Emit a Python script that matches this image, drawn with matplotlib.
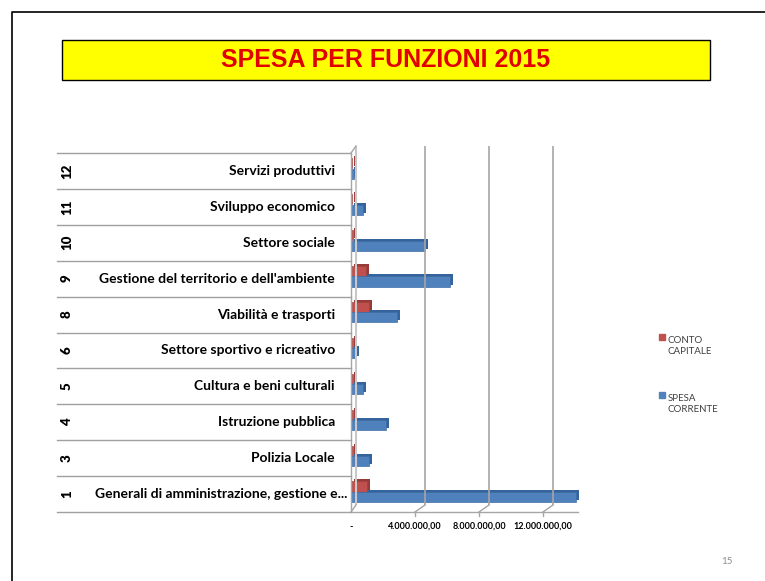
import matplotlib
matplotlib.use("Agg")
import matplotlib.pyplot as plt
from matplotlib.transforms import offset_copy
from matplotlib.lines import Line2D
from matplotlib.patches import Rectangle

# dati (euro)
codici = ["1", "3", "4", "5", "6", "8", "9", "10", "11", "12"]
funzioni = ["Generali di amministrazione, gestione e...",
            "Polizia Locale",
            "Istruzione pubblica",
            "Cultura e beni culturali",
            "Settore sportivo e ricreativo",
            "Viabilità e trasporti",
            "Gestione del territorio e dell'ambiente",
            "Settore sociale",
            "Sviluppo economico",
            "Servizi produttivi"]
spesa_corrente = [14050000, 1100000, 2200000, 750000, 300000,
                  2900000, 6200000, 4600000, 750000, 200000]
conto_capitale = [1000000, 150000, 100000, 100000, 100000,
                  1100000, 950000, 100000, 60000, 60000]
xticks = [0, 4000000, 8000000, 12000000]
xtick_labels = ["-", "4.000.000,00", "8.000.000,00", "12.000.000,00"]

rosso = "#C0504D"
rosso_scuro = "#963B38"
blu = "#4F81BD"
blu_scuro = "#35649C"
griglia = "#A6A6A6"

fig = plt.figure(figsize=(7.65, 5.81), dpi=100)
ax = fig.add_axes([351 / 765, 69 / 581, 232 / 765, 359 / 581])
ax.set_xlim(0, 14500000)
ax.set_ylim(-0.5, 9.5)
for s in ax.spines.values():
    s.set_visible(False)
ax.set_xticks([])
ax.set_yticks([])

y = list(range(len(codici)))
y_rosso = [v + 0.21 for v in y]
y_blu = [v - 0.08 for v in y]

# pareti 3D
back = offset_copy(ax.transData, fig=fig, x=10, y=7, units="dots")
wall = offset_copy(ax.transData, fig=fig, x=5, y=7, units="dots")
ax.vlines(xticks[1:], -0.5, 9.5, colors=griglia, lw=1.2, transform=back, clip_on=False)
ax.vlines([0], -0.5, 9.5, colors="#C8C8C8", lw=1.5, transform=wall, clip_on=False)
fig.canvas.draw()
for xv in xticks:
    p0 = ax.transData.transform((xv, -0.5))
    p1 = back.transform((xv, -0.5)) if xv else wall.transform((xv, -0.5))
    fig.lines.append(Line2D([p0[0], p1[0]], [p0[1], p1[1]], color=griglia, lw=1, transform=None))
p0 = ax.transData.transform((0, 9.5))
p1 = wall.transform((0, 9.5))
fig.lines.append(Line2D([p0[0], p1[0]], [p0[1], p1[1]], color=griglia, lw=1, transform=None))
ax.plot([0, 14200000], [-0.5, -0.5], color=griglia, lw=1, clip_on=False)
ax.vlines([0], -0.5, 9.5, colors=griglia, lw=1, clip_on=False)
for xv in xticks[1:]:
    ax.plot([xv, xv], [-0.5, -0.62], color=griglia, lw=1, clip_on=False)

# barre con effetto profondita'
depth = offset_copy(ax.transData, fig=fig, x=3, y=2, units="dots")
h = 0.28
ax.barh(y_rosso, conto_capitale, height=h, color=rosso_scuro, transform=depth, clip_on=False)
ax.barh(y_blu, spesa_corrente, height=h, color=blu_scuro, transform=depth, clip_on=False)
ax.barh(y_rosso, conto_capitale, height=h, color=rosso, edgecolor="#A04340", lw=0.5,
        clip_on=False, label="CONTO\nCAPITALE")
ax.barh(y_blu, spesa_corrente, height=h, color=blu, edgecolor="#3F6DA6", lw=0.5,
        clip_on=False, label="SPESA\nCORRENTE")

# tabella etichette
left = (57 - 351) / 232
yt = ax.get_yaxis_transform()
for b in [i - 0.5 for i in range(len(codici) + 1)]:
    ax.plot([left, 0], [b, b], color="#A0A0A0", lw=1, transform=yt, clip_on=False)
for i in y:
    ax.text((67 - 351) / 232, i, codici[i], rotation=90, ha="center", va="center",
            fontsize=9.5, fontweight="heavy", family="Lato", transform=yt)
    xr = 347 if funzioni[i].endswith("...") else 335
    ax.text((xr - 351) / 232, i, funzioni[i], ha="right", va="center",
            fontsize=10, fontweight="bold", family="Lato", transform=yt)

for xv, lab in zip(xticks, xtick_labels):
    ax.text(xv, -0.9, lab, ha="center", va="center", fontsize=6.5, fontweight="bold",
            family="Lato")

# legenda
fig.patches.append(Rectangle((659 / 765, 1 - 340 / 581), 6 / 765, 6 / 581, color=rosso,
                             transform=fig.transFigure))
fig.text(668 / 765, 1 - 336 / 581, "CONTO\nCAPITALE", fontsize=7, family="Lato",
         va="top", ha="left", color="#404040", linespacing=1.3)
fig.patches.append(Rectangle((659 / 765, 1 - 398 / 581), 6 / 765, 6 / 581, color=blu,
                             transform=fig.transFigure))
fig.text(668 / 765, 1 - 394 / 581, "SPESA\nCORRENTE", fontsize=7, family="Lato",
         va="top", ha="left", color="#404040", linespacing=1.3)

# titolo
fig.patches.append(Rectangle((62 / 765, 1 - 80 / 581), 648 / 765, 40 / 581,
                             facecolor="#FFFF00", edgecolor="black", lw=1,
                             transform=fig.transFigure))
fig.text(386 / 765, 1 - 60 / 581, "SPESA PER FUNZIONI 2015", color="#E00000",
         fontsize=18, fontweight="bold", family="Liberation Sans", ha="center", va="center")

# cornice e numero pagina
fig.lines.append(Line2D([12 / 765, 12 / 765, 1], [0, 1 - 12 / 581, 1 - 12 / 581],
                        color="black", lw=1.2, transform=fig.transFigure))
fig.text(727 / 765, 1 - 561 / 581, "15", fontsize=7, color="#8C8C8C", family="Lato",
         ha="center", va="center")

fig.savefig("out.png", dpi=100)
